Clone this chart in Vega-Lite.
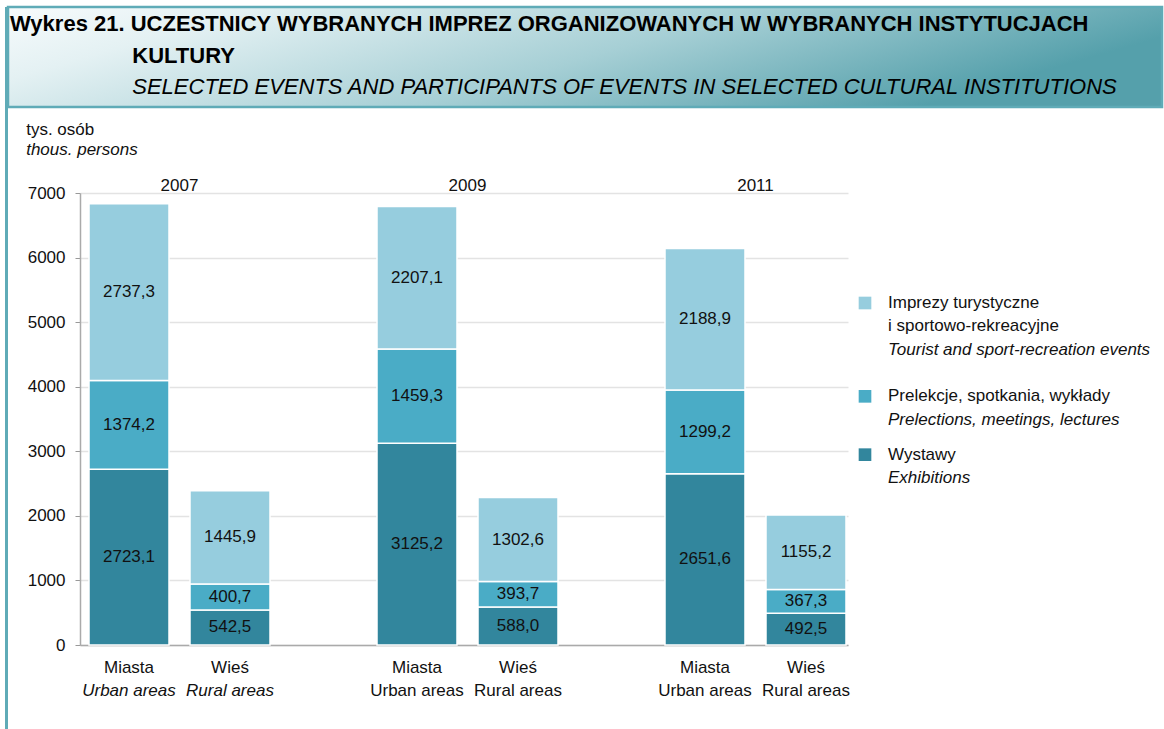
{
  "$schema": "https://vega.github.io/schema/vega-lite/v6.json",
  "padding": {"left": 5, "top": 5, "right": 0, "bottom": 0},
  "background": "white",
  "config": {
    "font": "Liberation Sans",
    "view": {"stroke": null},
    "text": {"fontSize": 17, "color": "#111"}
  },
  "datasets": {
    "main": [
      {"year": "2007", "area": "Miasta", "area_en": "Urban areas", "type": "Wystawy", "value": 2723.1},
      {"year": "2007", "area": "Miasta", "area_en": "Urban areas", "type": "Prelekcje, spotkania, wykłady", "value": 1374.2},
      {"year": "2007", "area": "Miasta", "area_en": "Urban areas", "type": "Imprezy turystyczne i sportowo-rekreacyjne", "value": 2737.3},
      {"year": "2007", "area": "Wieś", "area_en": "Rural areas", "type": "Wystawy", "value": 542.5},
      {"year": "2007", "area": "Wieś", "area_en": "Rural areas", "type": "Prelekcje, spotkania, wykłady", "value": 400.7},
      {"year": "2007", "area": "Wieś", "area_en": "Rural areas", "type": "Imprezy turystyczne i sportowo-rekreacyjne", "value": 1445.9},
      {"year": "2009", "area": "Miasta", "area_en": "Urban areas", "type": "Wystawy", "value": 3125.2},
      {"year": "2009", "area": "Miasta", "area_en": "Urban areas", "type": "Prelekcje, spotkania, wykłady", "value": 1459.3},
      {"year": "2009", "area": "Miasta", "area_en": "Urban areas", "type": "Imprezy turystyczne i sportowo-rekreacyjne", "value": 2207.1},
      {"year": "2009", "area": "Wieś", "area_en": "Rural areas", "type": "Wystawy", "value": 588.0},
      {"year": "2009", "area": "Wieś", "area_en": "Rural areas", "type": "Prelekcje, spotkania, wykłady", "value": 393.7},
      {"year": "2009", "area": "Wieś", "area_en": "Rural areas", "type": "Imprezy turystyczne i sportowo-rekreacyjne", "value": 1302.6},
      {"year": "2011", "area": "Miasta", "area_en": "Urban areas", "type": "Wystawy", "value": 2651.6},
      {"year": "2011", "area": "Miasta", "area_en": "Urban areas", "type": "Prelekcje, spotkania, wykłady", "value": 1299.2},
      {"year": "2011", "area": "Miasta", "area_en": "Urban areas", "type": "Imprezy turystyczne i sportowo-rekreacyjne", "value": 2188.9},
      {"year": "2011", "area": "Wieś", "area_en": "Rural areas", "type": "Wystawy", "value": 492.5},
      {"year": "2011", "area": "Wieś", "area_en": "Rural areas", "type": "Prelekcje, spotkania, wykłady", "value": 367.3},
      {"year": "2011", "area": "Wieś", "area_en": "Rural areas", "type": "Imprezy turystyczne i sportowo-rekreacyjne", "value": 1155.2}
    ],
    "legend": [
      {"slot": "a1", "type": "Imprezy turystyczne i sportowo-rekreacyjne", "lang": "pl", "text": "Imprezy turystyczne"},
      {"slot": "a2", "type": "Imprezy turystyczne i sportowo-rekreacyjne", "lang": "pl", "text": "i sportowo-rekreacyjne"},
      {"slot": "a3", "type": "Imprezy turystyczne i sportowo-rekreacyjne", "lang": "en", "text": "Tourist and sport-recreation events"},
      {"slot": "b1", "type": "Prelekcje, spotkania, wykłady", "lang": "pl", "text": "Prelekcje, spotkania, wykłady"},
      {"slot": "b2", "type": "Prelekcje, spotkania, wykłady", "lang": "en", "text": "Prelections, meetings, lectures"},
      {"slot": "c1", "type": "Wystawy", "lang": "pl", "text": "Wystawy"},
      {"slot": "c2", "type": "Wystawy", "lang": "en", "text": "Exhibitions"}
    ]
  },
  "spacing": -2,
  "hconcat": [
    {
      "width": 3,
      "height": 724,
      "view": {"fill": "#5fabb7", "stroke": null},
      "data": {"values": [{}]},
      "mark": {"type": "text", "text": ""},
      "encoding": {}
    },
    {
      "spacing": 12,
      "vconcat": [
        {
          "width": 1154,
          "height": 100,
          "view": {
            "fill": {"gradient": "linear", "x1": 0, "y1": 0, "x2": 1, "y2": 0.3,
              "stops": [
                {"offset": 0, "color": "#f7fbfc"},
                {"offset": 0.2, "color": "#e4f1f3"},
                {"offset": 0.6, "color": "#a6cfd5"},
                {"offset": 1, "color": "#55a0ab"}
              ]},
            "stroke": "#5fabb7",
            "strokeWidth": 2.5
          },
          "title": {
            "text": ["Wykres 21. UCZESTNICY WYBRANYCH IMPREZ ORGANIZOWANYCH W WYBRANYCH INSTYTUCJACH", "\u200b\u00a0\u00a0\u00a0\u00a0\u00a0\u00a0\u00a0\u00a0\u00a0\u00a0\u00a0\u00a0\u00a0\u00a0\u00a0\u00a0\u00a0\u00a0\u00a0\u00a0KULTURY"],
            "subtitle": "\u200b\u00a0\u00a0\u00a0\u00a0\u00a0\u00a0\u00a0\u00a0\u00a0\u00a0\u00a0\u00a0\u00a0\u00a0\u00a0\u00a0\u00a0\u00a0\u00a0\u00a0SELECTED EVENTS AND PARTICIPANTS OF EVENTS IN SELECTED CULTURAL INSTITUTIONS",
            "anchor": "start",
            "frame": "group",
            "orient": "top",
            "offset": -92,
            "dx": 2,
            "font": "Liberation Sans",
            "fontSize": 22,
            "fontWeight": "bold",
            "color": "#000",
            "lineHeight": 32,
            "subtitleFont": "Liberation Sans",
            "subtitleFontSize": 22,
            "subtitleFontStyle": "italic",
            "subtitleColor": "#000",
            "subtitlePadding": 9,
            "subtitleLineHeight": 32
          },
          "data": {"values": [{}]},
          "mark": {"type": "text", "text": ""},
          "encoding": {}
        },
        {
          "spacing": 8,
          "hconcat": [
            {
              "width": 10,
              "height": 1,
              "data": {"values": [{}]},
              "mark": {"type": "text", "text": ""},
              "encoding": {}
            },
            {
              "width": 768,
              "height": 452,
              "title": {
                "text": "tys. osób",
                "subtitle": "thous. persons",
                "anchor": "start",
                "frame": "bounds",
                "dx": -1,
                "offset": 18,
                "fontSize": 17,
                "fontWeight": "normal",
                "color": "#111",
                "subtitleFontSize": 17,
                "subtitleFontStyle": "italic",
                "subtitleColor": "#111",
                "subtitlePadding": 3
              },
              "data": {"name": "main"},
              "transform": [
                {"calculate": "indexof(['Wystawy', 'Prelekcje, spotkania, wykłady', 'Imprezy turystyczne i sportowo-rekreacyjne'], datum.type)", "as": "ord"},
                {"stack": "value", "groupby": ["year", "area"], "sort": [{"field": "ord", "order": "ascending"}], "as": ["v0", "v1"]},
                {"calculate": "(datum.v0 + datum.v1) / 2", "as": "vmid"},
                {"calculate": "replace(format(datum.value, '.1f'), '.', ',')", "as": "label"}
              ],
              "encoding": {
                "x": {
                  "field": "year",
                  "type": "nominal",
                  "title": null,
                  "scale": {
                    "domain": ["2007", "2009", "2011"],
                    "paddingInner": 0.3576,
                    "paddingOuter": 0.01215,
                    "align": 1
                  },
                  "axis": {"labels": false, "ticks": false, "title": null, "domain": true, "domainColor": "#aaaaaa", "domainWidth": 1.5, "grid": false}
                }
              },
              "layer": [
                {
                  "mark": {"type": "bar", "stroke": "white", "strokeWidth": 1.5},
                  "encoding": {
                    "xOffset": {
                      "field": "area",
                      "type": "nominal",
                      "scale": {"domain": ["Miasta", "Wieś"], "paddingInner": 0.208, "paddingOuter": 0.0199}
                    },
                    "y": {
                      "field": "v0",
                      "type": "quantitative",
                      "title": null,
                      "scale": {"domain": [0, 7000], "nice": false},
                      "axis": {
                        "values": [0, 1000, 2000, 3000, 4000, 5000, 6000, 7000],
                        "format": "d",
                        "title": null,
                        "labelFontSize": 17,
                        "labelColor": "#111",
                        "labelPadding": 10,
                        "tickSize": 5,
                        "tickColor": "#999999",
                        "domainColor": "#aaaaaa",
                        "domainWidth": 1.5,
                        "gridColor": "#e3e3e3",
                        "gridWidth": 1.5
                      }
                    },
                    "y2": {"field": "v1"},
                    "color": {
                      "field": "type",
                      "type": "nominal",
                      "scale": {
                        "domain": ["Imprezy turystyczne i sportowo-rekreacyjne", "Prelekcje, spotkania, wykłady", "Wystawy"],
                        "range": ["#96cdde", "#4aacc6", "#32869d"]
                      },
                      "legend": null
                    }
                  }
                },
                {
                  "mark": {"type": "text", "baseline": "middle"},
                  "encoding": {
                    "xOffset": {"field": "area", "type": "nominal"},
                    "y": {"field": "vmid", "type": "quantitative", "title": null},
                    "text": {"field": "label", "type": "nominal"}
                  }
                },
                {
                  "transform": [{"filter": "datum.type == 'Wystawy' && datum.area == 'Miasta'"}],
                  "mark": {"type": "text", "baseline": "bottom", "dy": 2},
                  "encoding": {
                    "y": {"datum": 7000},
                    "text": {"field": "year", "type": "nominal"}
                  }
                },
                {
                  "transform": [{"filter": "datum.type == 'Wystawy'"}],
                  "mark": {"type": "text", "baseline": "middle", "dy": 23},
                  "encoding": {
                    "xOffset": {"field": "area", "type": "nominal"},
                    "y": {"datum": 0},
                    "text": {"field": "area", "type": "nominal"}
                  }
                },
                {
                  "transform": [{"filter": "datum.type == 'Wystawy' && datum.year == '2007'"}],
                  "mark": {"type": "text", "baseline": "middle", "dy": 46, "fontStyle": "italic"},
                  "encoding": {
                    "xOffset": {"field": "area", "type": "nominal"},
                    "y": {"datum": 0},
                    "text": {"field": "area_en", "type": "nominal"}
                  }
                },
                {
                  "transform": [{"filter": "datum.type == 'Wystawy' && datum.year != '2007'"}],
                  "mark": {"type": "text", "baseline": "middle", "dy": 46},
                  "encoding": {
                    "xOffset": {"field": "area", "type": "nominal"},
                    "y": {"datum": 0},
                    "text": {"field": "area_en", "type": "nominal"}
                  }
                }
              ]
            },
            {
              "width": 12,
              "height": 300,
              "data": {"name": "legend"},
              "encoding": {
                "y": {
                  "field": "slot",
                  "type": "nominal",
                  "scale": {"type": "point", "domain": ["a1", "s1", "a2", "s2", "a3", "s3", "s4", "s5", "b1", "s6", "b2", "s7", "s8", "c1", "s9", "c2"], "range": [110, 285], "padding": 0},
                  "axis": null
                }
              },
              "layer": [
                {
                  "transform": [{"filter": "datum.slot == 'a1' || datum.slot == 'b1' || datum.slot == 'c1'"}],
                  "mark": {"type": "square", "size": 160, "filled": true, "opacity": 1},
                  "encoding": {
                    "color": {
                      "field": "type",
                      "type": "nominal",
                      "scale": {
                        "domain": ["Imprezy turystyczne i sportowo-rekreacyjne", "Prelekcje, spotkania, wykłady", "Wystawy"],
                        "range": ["#96cdde", "#4aacc6", "#32869d"]
                      },
                      "legend": null
                    }
                  }
                },
                {
                  "transform": [{"filter": "datum.lang == 'pl'"}],
                  "mark": {"type": "text", "align": "left", "baseline": "middle", "dx": 23},
                  "encoding": {"text": {"field": "text", "type": "nominal"}}
                },
                {
                  "transform": [{"filter": "datum.lang == 'en'"}],
                  "mark": {"type": "text", "align": "left", "baseline": "middle", "dx": 23, "fontStyle": "italic"},
                  "encoding": {"text": {"field": "text", "type": "nominal"}}
                }
              ]
            }
          ]
        }
      ]
    }
  ]
}
